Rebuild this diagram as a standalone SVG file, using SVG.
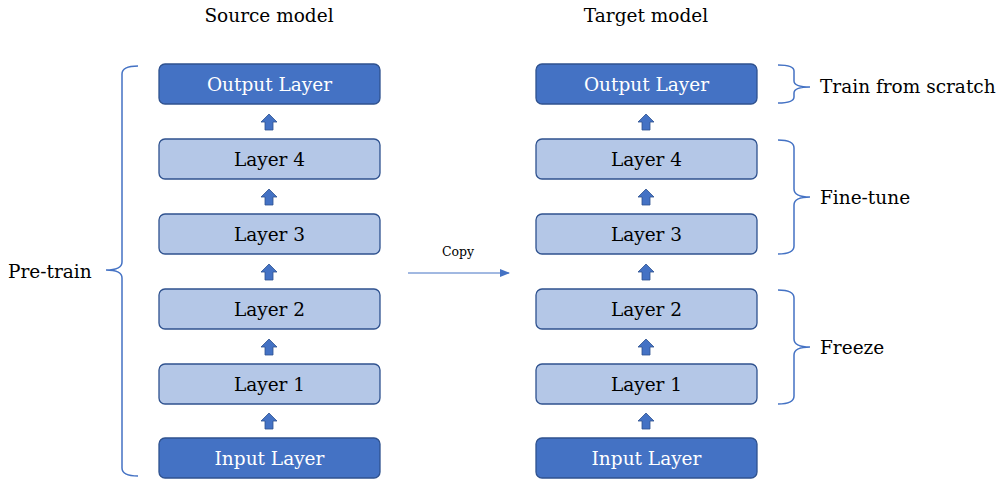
<svg xmlns="http://www.w3.org/2000/svg" width="998" height="481" viewBox="0 0 998 481">
<defs>
<style>
.dark{fill:#4472C4;stroke:#2F528F;stroke-width:1.3}
.light{fill:#B4C7E7;stroke:#2F528F;stroke-width:1.3}
.tw{font-family:"DejaVu Serif","Liberation Serif",serif;font-size:18.5px;fill:#ffffff;text-anchor:middle}
.tb{font-family:"DejaVu Serif","Liberation Serif",serif;font-size:18.5px;fill:#000000;text-anchor:middle}
.lbl{font-family:"DejaVu Serif","Liberation Serif",serif;font-size:18.5px;fill:#000000}
.brace{fill:none;stroke:#4472C4;stroke-width:1.5}
.up{fill:#4472C4;stroke:#2F528F;stroke-width:0.8}
</style>
<marker id="ah" markerWidth="10" markerHeight="8" refX="9" refY="4" orient="auto" markerUnits="userSpaceOnUse">
<path d="M0,0 L10,4 L0,8 z" fill="#4472C4"/>
</marker>
<path id="uparr" d="M0,-8 L8,0 L4,0 L4,8 L-4,8 L-4,0 L-8,0 z"/>
</defs>
<rect width="998" height="481" fill="#ffffff"/>

<text class="tb" x="269" y="22">Source model</text>
<text class="tb" x="646" y="22">Target model</text>

<g id="src-output"><rect class="dark" x="159" y="64" width="221" height="40" rx="6"/><text class="tw" x="269.5" y="91">Output Layer</text></g>
<g id="src-layer4"><rect class="light" x="159" y="139" width="221" height="40" rx="6"/><text class="tb" x="269.5" y="166">Layer 4</text></g>
<g id="src-layer3"><rect class="light" x="159" y="214" width="221" height="40" rx="6"/><text class="tb" x="269.5" y="241">Layer 3</text></g>
<g id="src-layer2"><rect class="light" x="159" y="289" width="221" height="40" rx="6"/><text class="tb" x="269.5" y="316">Layer 2</text></g>
<g id="src-layer1"><rect class="light" x="159" y="364" width="221" height="40" rx="6"/><text class="tb" x="269.5" y="391">Layer 1</text></g>
<g id="src-input"><rect class="dark" x="159" y="438" width="221" height="40" rx="6"/><text class="tw" x="269.5" y="465">Input Layer</text></g>

<g id="tgt-output"><rect class="dark" x="536" y="64" width="221" height="40" rx="6"/><text class="tw" x="646.5" y="91">Output Layer</text></g>
<g id="tgt-layer4"><rect class="light" x="536" y="139" width="221" height="40" rx="6"/><text class="tb" x="646.5" y="166">Layer 4</text></g>
<g id="tgt-layer3"><rect class="light" x="536" y="214" width="221" height="40" rx="6"/><text class="tb" x="646.5" y="241">Layer 3</text></g>
<g id="tgt-layer2"><rect class="light" x="536" y="289" width="221" height="40" rx="6"/><text class="tb" x="646.5" y="316">Layer 2</text></g>
<g id="tgt-layer1"><rect class="light" x="536" y="364" width="221" height="40" rx="6"/><text class="tb" x="646.5" y="391">Layer 1</text></g>
<g id="tgt-input"><rect class="dark" x="536" y="438" width="221" height="40" rx="6"/><text class="tw" x="646.5" y="465">Input Layer</text></g>

<g id="connectors">
<use href="#uparr" class="up" x="269" y="122"/>
<use href="#uparr" class="up" x="269" y="197"/>
<use href="#uparr" class="up" x="269" y="272"/>
<use href="#uparr" class="up" x="269" y="347"/>
<use href="#uparr" class="up" x="269" y="421"/>
<use href="#uparr" class="up" x="646" y="122"/>
<use href="#uparr" class="up" x="646" y="197"/>
<use href="#uparr" class="up" x="646" y="272"/>
<use href="#uparr" class="up" x="646" y="347"/>
<use href="#uparr" class="up" x="646" y="421"/>
<line x1="408" y1="273" x2="509" y2="273" stroke="#4472C4" stroke-width="1" marker-end="url(#ah)"/>
<text x="458" y="256" font-family="'DejaVu Serif','Liberation Serif',serif" font-size="12.5" text-anchor="middle" fill="#000">Copy</text>
</g>

<g id="pretrain">
<path class="brace" d="M138,66 Q122,66 122,74 L122,262 Q122,270 106,270 Q122,270 122,278 L122,468 Q122,476 138,476"/>
<text class="lbl" x="8" y="278">Pre-train</text>
</g>
<g id="scratch">
<path class="brace" d="M778,65 Q794,65 794,71 L794,81 Q794,87 810,87 Q794,87 794,93 L794,97 Q794,103 778,103"/>
<text class="lbl" x="820" y="93">Train from scratch</text>
</g>
<g id="finetune">
<path class="brace" d="M778,140 Q794,140 794,148 L794,189 Q794,197 810,197 Q794,197 794,205 L794,246 Q794,254 778,254"/>
<text class="lbl" x="820" y="204">Fine-tune</text>
</g>
<g id="freeze">
<path class="brace" d="M778,290 Q794,290 794,298 L794,339 Q794,347 810,347 Q794,347 794,355 L794,396 Q794,404 778,404"/>
<text class="lbl" x="820" y="354">Freeze</text>
</g>
</svg>
